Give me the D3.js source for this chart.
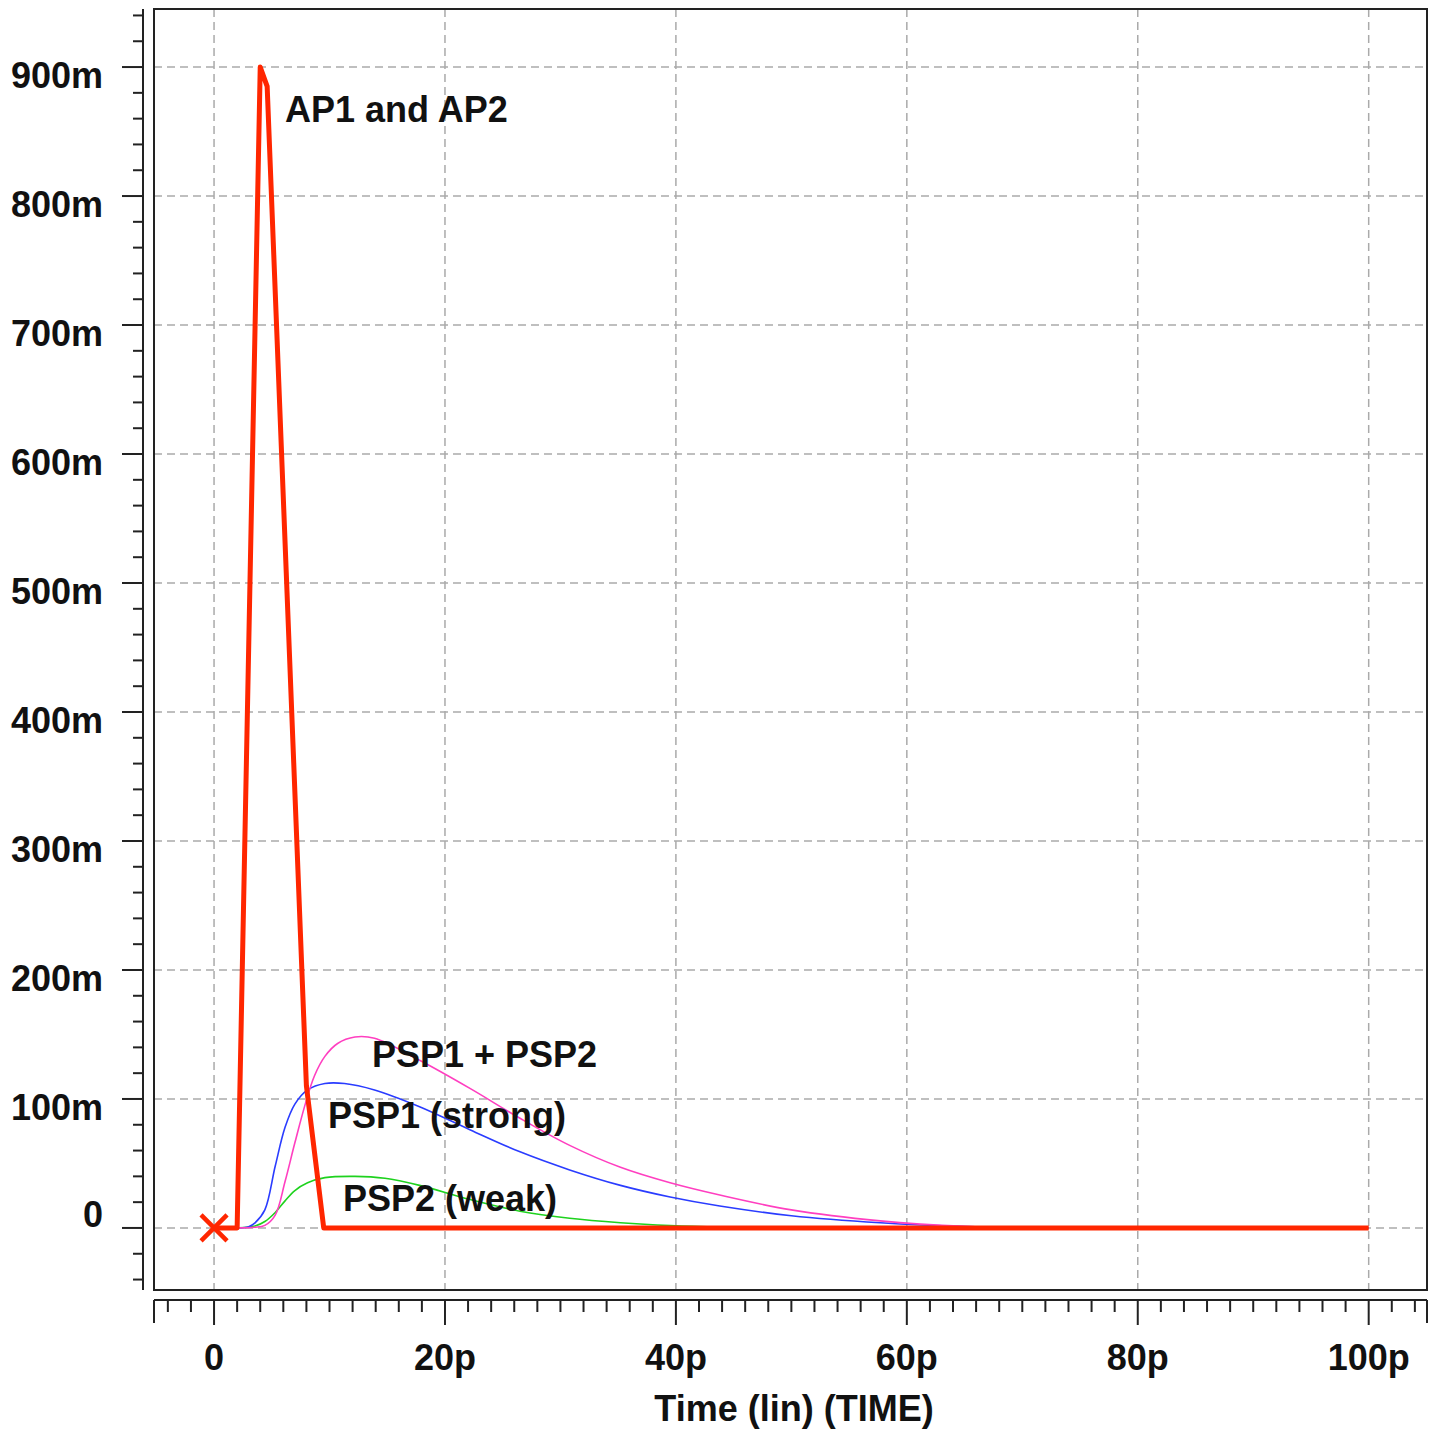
<!DOCTYPE html>
<html>
<head>
<meta charset="utf-8">
<script src="https://cdn.jsdelivr.net/npm/d3@7"></script>
<style>
  body { margin: 0; background: #fff; }
  svg { display: block; }
  text { font-family: "Liberation Sans", Arial, sans-serif; font-weight: bold; fill: #111; }
</style>
</head>
<body>
<svg width="1437" height="1437"></svg>
<script>
// Time in ps, voltage in mV
const apTime = [0, 2, 4, 4.6, 8.0, 9.5, 100];
const apValue = [0, 0, 900, 885, 110, 0, 0];

const psp1Time = [0, 2, 3, 3.55, 4.4, 5.3, 6.15, 7.0, 8.1, 9.6, 11.3, 13.9, 17.8, 22.2, 26.5, 30.8, 35.2, 39.5, 43.8, 50, 57.7, 65, 72, 100];
const psp1Value = [0, 0, 1, 4, 14, 48, 78, 96, 107, 112, 112, 107, 94, 76, 59, 45, 33, 24, 17, 9.5, 4, 1, 0, 0];

const sumTime = [0, 2, 3.5, 4.4, 5.3, 6.15, 7.0, 7.9, 8.7, 9.6, 10.7, 12.2, 13.9, 17.8, 22.2, 26.5, 30.8, 35.2, 39.5, 43.8, 50, 57.7, 65, 72, 100];
const sumValue = [0, 0, 0.5, 2, 10, 36, 66, 96, 118, 133, 143, 148, 147, 130, 108, 85, 64, 47, 35, 25.5, 14, 5.5, 1.2, 0, 0];

const psp2Time = [0, 2, 3.55, 4.4, 5.3, 6.15, 7.0, 8.1, 9.6, 12.2, 14.8, 17.8, 22.2, 26.5, 30.8, 35.2, 39.5, 44, 50, 100];
const psp2Value = [0, 0, 1.5, 5, 12, 21, 29, 35, 39, 40, 38.5, 33, 22, 13, 7.5, 4, 1.8, 0.6, 0, 0];

const xTicks = [0, 20, 40, 60, 80, 100];
const xTickLabels = ["0", "20p", "40p", "60p", "80p", "100p"];
const yTicks = [0, 100, 200, 300, 400, 500, 600, 700, 800, 900];
const yTickLabels = ["0", "100m", "200m", "300m", "400m", "500m", "600m", "700m", "800m", "900m"];

const svg = d3.select("svg");
const plotL = 154, plotR = 1427, plotT = 9, plotB = 1290;

const x = d3.scaleLinear().domain([-5.2, 105.05]).range([plotL, plotR]);
const y = d3.scaleLinear().domain([-48.1, 945]).range([plotB, plotT]);

// Grid
const grid = svg.append("g").attr("stroke", "#aaa").attr("stroke-width", 1.5).attr("stroke-dasharray", "8,5");
grid.selectAll("line.gx").data(xTicks).enter().append("line")
    .attr("x1", d => x(d)).attr("x2", d => x(d)).attr("y1", plotT).attr("y2", plotB);
grid.selectAll("line.gy").data(yTicks).enter().append("line")
    .attr("x1", plotL).attr("x2", plotR).attr("y1", d => y(d)).attr("y2", d => y(d));

// Frame
svg.append("rect").attr("x", plotL).attr("y", plotT).attr("width", plotR - plotL).attr("height", plotB - plotT)
    .attr("fill", "none").attr("stroke", "#222").attr("stroke-width", 2);

// Y axis (separate, left of frame)
const yMinor = d3.range(-40, 941, 20);
const yAxis = svg.append("g").attr("stroke", "#222").attr("stroke-width", 2);
yAxis.append("line").attr("x1", 143).attr("x2", 143).attr("y1", plotT).attr("y2", plotB);
yAxis.selectAll("line.t").data(yMinor).enter().append("line")
    .attr("x1", d => d % 100 === 0 ? 122 : 133).attr("x2", 143)
    .attr("y1", d => y(d)).attr("y2", d => y(d));
svg.selectAll("text.yl").data(yTicks).enter().append("text")
    .attr("x", 103).attr("y", d => d === 0 ? y(d) - 1 : y(d) + 21)
    .attr("text-anchor", "end").attr("font-size", 36)
    .text((d, i) => yTickLabels[i]);

// X axis (separate, below frame)
const xMinor = d3.range(-4, 105, 2);
const xAxis = svg.append("g").attr("stroke", "#222").attr("stroke-width", 2);
xAxis.append("line").attr("x1", plotL).attr("x2", plotR).attr("y1", 1300).attr("y2", 1300);
xAxis.selectAll("line.t").data(xMinor).enter().append("line")
    .attr("x1", d => x(d)).attr("x2", d => x(d))
    .attr("y1", 1300).attr("y2", d => d % 20 === 0 ? 1325 : 1312);
xAxis.append("line").attr("x1", plotL).attr("x2", plotL).attr("y1", 1300).attr("y2", 1323);
xAxis.append("line").attr("x1", plotR).attr("x2", plotR).attr("y1", 1300).attr("y2", 1323);
svg.selectAll("text.xl").data(xTicks).enter().append("text")
    .attr("x", d => x(d)).attr("y", 1370)
    .attr("text-anchor", "middle").attr("font-size", 36)
    .text((d, i) => xTickLabels[i]);
svg.append("text").attr("x", 794).attr("y", 1421).attr("text-anchor", "middle")
    .attr("font-size", 36).text("Time (lin) (TIME)");

// Curves
const smooth = d3.line().x(d => x(d[0])).y(d => y(d[1])).curve(d3.curveCatmullRom.alpha(0.5));
const straight = d3.line().x(d => x(d[0])).y(d => y(d[1]));
const zip = (t, v) => t.map((d, i) => [d, v[i]]);

svg.append("path").attr("d", smooth(zip(psp2Time, psp2Value)))
    .attr("fill", "none").attr("stroke", "#1ed21e").attr("stroke-width", 1.6);
svg.append("path").attr("d", smooth(zip(psp1Time, psp1Value)))
    .attr("fill", "none").attr("stroke", "#2a3cff").attr("stroke-width", 1.6);
svg.append("path").attr("d", smooth(zip(sumTime, sumValue)))
    .attr("fill", "none").attr("stroke", "#ff3fc0").attr("stroke-width", 1.6);
svg.append("path").attr("d", straight(zip(apTime, apValue)))
    .attr("fill", "none").attr("stroke", "#ff2600").attr("stroke-width", 5)
    .attr("stroke-linejoin", "round");

// Cursor marker at origin
const mx = x(0), my = y(0);
svg.append("path").attr("d", `M${mx - 13},${my - 13}L${mx + 13},${my + 13}M${mx - 13},${my + 13}L${mx + 13},${my - 13}`)
    .attr("stroke", "#ff2600").attr("stroke-width", 4.5);

// Labels
svg.append("text").attr("x", 285).attr("y", 122).attr("font-size", 36).text("AP1 and AP2");
svg.append("text").attr("x", 372).attr("y", 1067).attr("font-size", 36).text("PSP1 + PSP2");
svg.append("text").attr("x", 328).attr("y", 1128).attr("font-size", 36).text("PSP1 (strong)");
svg.append("text").attr("x", 343).attr("y", 1211).attr("font-size", 36).text("PSP2 (weak)");
</script>
</body>
</html>
